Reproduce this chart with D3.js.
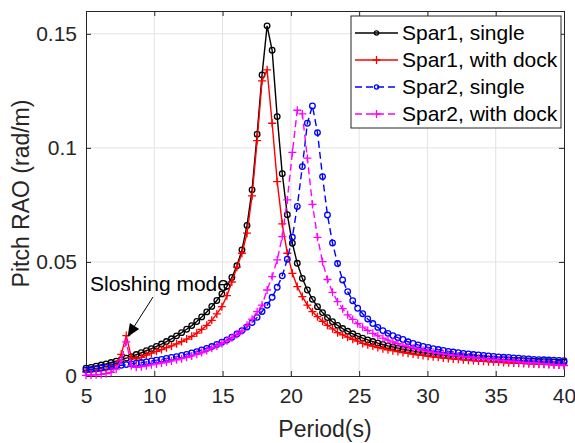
<!DOCTYPE html>
<html>
<head>
    <meta charset="utf-8">
    <script src="https://cdn.jsdelivr.net/npm/d3@7"></script>
    <style>
        body { margin: 0; background: #fff; }
        svg { display: block; font-family: "Liberation Sans", Arial, sans-serif; }
    </style>
</head>
<body>
    <svg width="575" height="443"></svg>
    <script>
        // sample periods (s)
        const periods = [
            5.00, 5.37, 5.74, 6.11, 6.47, 6.84, 7.21, 7.58, 7.95, 8.32,
            8.68, 9.05, 9.42, 9.79, 10.16, 10.53, 10.89, 11.26, 11.63, 12.00,
            12.37, 12.74, 13.11, 13.47, 13.84, 14.21, 14.58, 14.95, 15.32, 15.68,
            16.05, 16.42, 16.79, 17.16, 17.53, 17.89, 18.26, 18.63, 19.00, 19.37,
            19.74, 20.11, 20.47, 20.84, 21.21, 21.58, 21.95, 22.32, 22.68, 23.05,
            23.42, 23.79, 24.16, 24.53, 24.89, 25.26, 25.63, 26.00, 26.37, 26.74,
            27.11, 27.47, 27.84, 28.21, 28.58, 28.95, 29.32, 29.68, 30.05, 30.42,
            30.79, 31.16, 31.53, 31.89, 32.26, 32.63, 33.00, 33.37, 33.74, 34.11,
            34.47, 34.84, 35.21, 35.58, 35.95, 36.32, 36.68, 37.05, 37.42, 37.79,
            38.16, 38.53, 38.89, 39.26, 39.63, 40.00
        ]
        const spar1Single = [
            0.0034, 0.0038, 0.0043, 0.0048, 0.0053, 0.0059, 0.0065, 0.0071, 0.0078, 0.0085,
            0.0094, 0.0102, 0.0111, 0.0120, 0.0130, 0.0140, 0.0151, 0.0163, 0.0176, 0.0190,
            0.0205, 0.0221, 0.0239, 0.0259, 0.0281, 0.0305, 0.0331, 0.0360, 0.0393, 0.0432,
            0.0483, 0.0553, 0.0660, 0.0816, 0.1060, 0.1320, 0.1535, 0.1428, 0.1137, 0.0887,
            0.0707, 0.0582, 0.0494, 0.0428, 0.0377, 0.0336, 0.0304, 0.0278, 0.0256, 0.0238,
            0.0222, 0.0208, 0.0196, 0.0185, 0.0175, 0.0166, 0.0158, 0.0151, 0.0144, 0.0138,
            0.0132, 0.0127, 0.0122, 0.0117, 0.0113, 0.0109, 0.0105, 0.0102, 0.0099, 0.0096,
            0.0093, 0.0091, 0.0089, 0.0087, 0.0085, 0.0083, 0.0081, 0.0079, 0.0078, 0.0076,
            0.0075, 0.0073, 0.0072, 0.0071, 0.0070, 0.0069, 0.0068, 0.0067, 0.0066, 0.0065,
            0.0064, 0.0063, 0.0063, 0.0062, 0.0061, 0.0061
        ]
        const spar1Dock = [
            0.0018, 0.0019, 0.0021, 0.0024, 0.0028, 0.0035, 0.0050, 0.0095, 0.0177, 0.0082,
            0.0075, 0.0082, 0.0092, 0.0100, 0.0108, 0.0116, 0.0124, 0.0132, 0.0141, 0.0151,
            0.0162, 0.0174, 0.0188, 0.0204, 0.0222, 0.0244, 0.0272, 0.0304, 0.0352, 0.0412,
            0.0477, 0.0538, 0.0626, 0.0790, 0.1032, 0.1294, 0.1342, 0.1108, 0.0852, 0.0667,
            0.0538, 0.0450, 0.0392, 0.0348, 0.0311, 0.0282, 0.0260, 0.0240, 0.0222, 0.0207,
            0.0190, 0.0180, 0.0170, 0.0161, 0.0153, 0.0143, 0.0137, 0.0131, 0.0125, 0.0120,
            0.0115, 0.0111, 0.0107, 0.0103, 0.0100, 0.0096, 0.0093, 0.0090, 0.0087, 0.0084,
            0.0082, 0.0079, 0.0077, 0.0075, 0.0073, 0.0071, 0.0069, 0.0068, 0.0066, 0.0065,
            0.0063, 0.0062, 0.0061, 0.0059, 0.0058, 0.0057, 0.0056, 0.0055, 0.0054, 0.0053,
            0.0052, 0.0051, 0.0050, 0.0049, 0.0048, 0.0047
        ]
        const spar2Single = [
            0.0026, 0.0029, 0.0032, 0.0035, 0.0038, 0.0041, 0.0044, 0.0047, 0.0050, 0.0053,
            0.0056, 0.0059, 0.0062, 0.0066, 0.0069, 0.0073, 0.0077, 0.0081, 0.0085, 0.0090,
            0.0095, 0.0101, 0.0107, 0.0114, 0.0121, 0.0129, 0.0138, 0.0148, 0.0158, 0.0170,
            0.0184, 0.0199, 0.0215, 0.0234, 0.0257, 0.0283, 0.0310, 0.0345, 0.0389, 0.0439,
            0.0512, 0.0608, 0.0743, 0.0918, 0.1108, 0.1184, 0.1067, 0.0874, 0.0706, 0.0583,
            0.0493, 0.0421, 0.0370, 0.0330, 0.0297, 0.0273, 0.0250, 0.0230, 0.0213, 0.0199,
            0.0187, 0.0177, 0.0168, 0.0160, 0.0150, 0.0143, 0.0136, 0.0130, 0.0125, 0.0120,
            0.0116, 0.0112, 0.0108, 0.0105, 0.0102, 0.0099, 0.0097, 0.0094, 0.0092, 0.0090,
            0.0088, 0.0086, 0.0084, 0.0082, 0.0081, 0.0079, 0.0078, 0.0076, 0.0075, 0.0073,
            0.0072, 0.0071, 0.0070, 0.0069, 0.0068, 0.0067
        ]
        const spar2Dock = [
            0.0003, 0.0004, 0.0005, 0.0007, 0.0010, 0.0016, 0.0030, 0.0070, 0.0150, 0.0045,
            0.0038, 0.0041, 0.0045, 0.0049, 0.0053, 0.0057, 0.0061, 0.0066, 0.0071, 0.0076,
            0.0082, 0.0088, 0.0095, 0.0103, 0.0112, 0.0122, 0.0132, 0.0143, 0.0155, 0.0168,
            0.0182, 0.0198, 0.0222, 0.0249, 0.0282, 0.0311, 0.0377, 0.0436, 0.0509, 0.0611,
            0.0772, 0.0980, 0.1165, 0.1149, 0.0955, 0.0752, 0.0608, 0.0501, 0.0423, 0.0367,
            0.0326, 0.0295, 0.0268, 0.0248, 0.0230, 0.0214, 0.0200, 0.0187, 0.0176, 0.0166,
            0.0157, 0.0149, 0.0142, 0.0135, 0.0129, 0.0123, 0.0118, 0.0113, 0.0108, 0.0104,
            0.0100, 0.0097, 0.0094, 0.0091, 0.0088, 0.0085, 0.0083, 0.0080, 0.0078, 0.0076,
            0.0074, 0.0072, 0.0070, 0.0068, 0.0066, 0.0064, 0.0062, 0.0060, 0.0058, 0.0057,
            0.0055, 0.0053, 0.0052, 0.0050, 0.0048, 0.0046
        ]
        const seriesNames = ['Spar1, single', 'Spar1, with dock', 'Spar2, single', 'Spar2, with dock']
        const xTicks = [5, 10, 15, 20, 25, 30, 35, 40]
        const yTicks = [0, 0.05, 0.1, 0.15]
        const yTickLabels = ['0', '0.05', '0.1', '0.15']

        const styles = [
            { color: '#000000', dash: null, marker: 'circle' },
            { color: '#ff0000', dash: null, marker: 'plus' },
            { color: '#0000ff', dash: '7,4', marker: 'circle' },
            { color: '#ff00ff', dash: '7,4', marker: 'plus' }
        ]
        const allSeries = [spar1Single, spar1Dock, spar2Single, spar2Dock]

        const AXIS_COLOR = '#262626'
        const GRID_COLOR = '#e3e3e3'
        const FONT_SIZE = '21px'
        const plotL = 86, plotR = 564, plotT = 11, plotB = 376

        const svg = d3.select('svg')
        const x = d3.scaleLinear().domain([5, 40]).range([plotL, plotR])
        const y = d3.scaleLinear().domain([0, 0.16]).range([plotB, plotT])

        // grid
        svg.append('g').selectAll('line').data(xTicks.slice(1, -1)).join('line')
            .attr('x1', d => x(d)).attr('x2', d => x(d))
            .attr('y1', plotT).attr('y2', plotB)
            .attr('stroke', GRID_COLOR).attr('stroke-width', 1)
        svg.append('g').selectAll('line').data(yTicks.slice(1)).join('line')
            .attr('x1', plotL).attr('x2', plotR)
            .attr('y1', d => y(d)).attr('y2', d => y(d))
            .attr('stroke', GRID_COLOR).attr('stroke-width', 1)

        // axes with inward ticks, all four sides
        const tickLen = 5
        svg.append('g').attr('transform', `translate(0,${plotB})`)
            .call(d3.axisBottom(x).tickValues(xTicks).tickSizeInner(-tickLen).tickSizeOuter(0).tickPadding(12))
        svg.append('g').attr('transform', `translate(0,${plotT})`)
            .call(d3.axisTop(x).tickValues(xTicks).tickSizeInner(-tickLen).tickSizeOuter(0).tickFormat(''))
        svg.append('g').attr('transform', `translate(${plotL},0)`)
            .call(d3.axisLeft(y).tickValues(yTicks).tickSizeInner(-tickLen).tickSizeOuter(0).tickPadding(9)
                .tickFormat((d, i) => yTickLabels[i]))
        svg.append('g').attr('transform', `translate(${plotR},0)`)
            .call(d3.axisRight(y).tickValues(yTicks).tickSizeInner(-tickLen).tickSizeOuter(0).tickFormat(''))
        svg.selectAll('.domain').attr('stroke', AXIS_COLOR).attr('stroke-width', 1)
        svg.selectAll('.tick line').attr('stroke', AXIS_COLOR)
        svg.selectAll('.tick text').attr('fill', AXIS_COLOR)
            .style('font-size', FONT_SIZE).style('font-family', '"Liberation Sans", Arial, sans-serif')

        // curves
        const line = d3.line().x(d => x(d[0])).y(d => y(d[1]))
        function drawMarker (g, cx, cy, type, color, size) {
            if (type === 'circle') {
                g.append('circle').attr('cx', cx).attr('cy', cy).attr('r', size * 0.7)
                    .attr('fill', 'none').attr('stroke', color).attr('stroke-width', 1.3)
            } else {
                g.append('path')
                    .attr('d', `M${cx - size},${cy}H${cx + size}M${cx},${cy - size}V${cy + size}`)
                    .attr('stroke', color).attr('stroke-width', 1.3).attr('fill', 'none')
            }
        }
        allSeries.forEach((vals, k) => {
            const st = styles[k]
            const pts = periods.map((p, i) => [p, vals[i]])
            const g = svg.append('g')
            g.append('path').datum(pts)
                .attr('d', line)
                .attr('fill', 'none')
                .attr('stroke', st.color)
                .attr('stroke-width', 1.4)
                .attr('stroke-dasharray', st.dash)
            pts.forEach(d => drawMarker(g, x(d[0]), y(d[1]), st.marker, st.color, 4))
        })

        // annotation
        svg.append('text').attr('x', 90).attr('y', 291).text('Sloshing mode')
            .style('font-size', FONT_SIZE).attr('fill', '#000')
        const ax0 = 153, ay0 = 297, ax1 = 127.5, ay1 = 337
        const ang = Math.atan2(ay1 - ay0, ax1 - ax0)
        const headL = 13, headW = 5.5
        const bx = ax1 - headL * Math.cos(ang), by = ay1 - headL * Math.sin(ang)
        svg.append('line').attr('x1', ax0).attr('y1', ay0).attr('x2', bx).attr('y2', by)
            .attr('stroke', '#000').attr('stroke-width', 1)
        svg.append('path')
            .attr('d', `M${ax1},${ay1}L${bx + headW * Math.sin(ang)},${by - headW * Math.cos(ang)}L${bx - headW * Math.sin(ang)},${by + headW * Math.cos(ang)}Z`)
            .attr('fill', '#000')

        // legend
        const lg = svg.append('g')
        lg.append('rect').attr('x', 351).attr('y', 16).attr('width', 210).attr('height', 112)
            .attr('fill', '#fff').attr('stroke', AXIS_COLOR).attr('stroke-width', 1)
        seriesNames.forEach((name, k) => {
            const st = styles[k]
            const ry = 33 + k * 27
            lg.append('line').attr('x1', 355).attr('x2', 398).attr('y1', ry).attr('y2', ry)
                .attr('stroke', st.color).attr('stroke-width', 1.4).attr('stroke-dasharray', st.dash)
            drawMarker(lg, 376.5, ry, st.marker, st.color, st.marker === 'circle' ? 3 : 4)
            lg.append('text').attr('x', 402).attr('y', ry + 7).text(name)
                .style('font-size', FONT_SIZE).attr('fill', '#000')
        })

        // axis labels
        svg.append('text').attr('x', (plotL + plotR) / 2).attr('y', 437)
            .attr('text-anchor', 'middle').style('font-size', '23px').attr('fill', AXIS_COLOR)
            .text('Period(s)')
        svg.append('text').attr('transform', `translate(29,${(plotT + plotB) / 2}) rotate(-90)`)
            .attr('text-anchor', 'middle').style('font-size', '23px').attr('fill', AXIS_COLOR)
            .text('Pitch RAO (rad/m)')
    </script>
</body>
</html>
